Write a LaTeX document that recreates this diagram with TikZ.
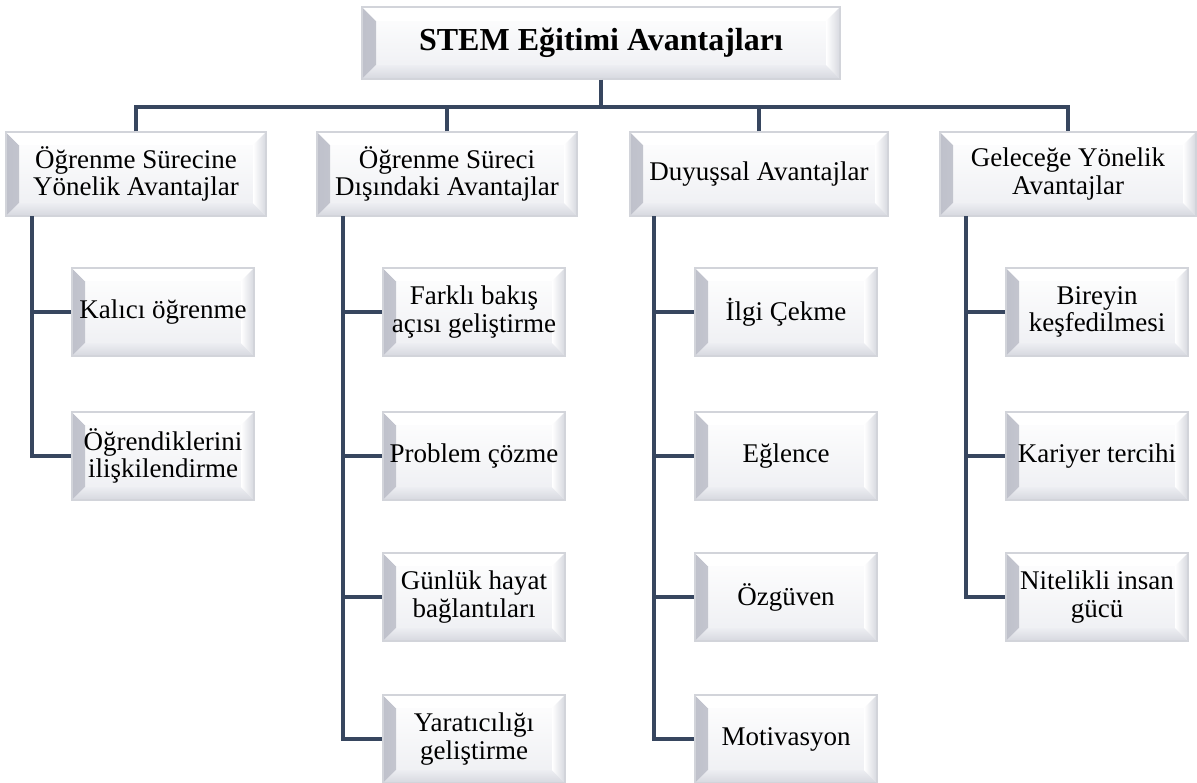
\documentclass[tikz,border=0pt]{standalone}
\usepackage{fontspec}
\setmainfont{Liberation Serif}
\definecolor{linkblue}{HTML}{37465F}
\definecolor{edgegray}{HTML}{D2D4DA}
\definecolor{bevdark}{HTML}{BFC1CB}
\definecolor{bevmid}{HTML}{D6D8DF}
\definecolor{facelow}{HTML}{EDEEF2}

% beveled faces of a panel, size #1
\newcommand\bevelfaces[1]{%
  \shade[left color=bevdark, right color=white]
    (path picture bounding box.south west)
    -- ([shift={(#1,#1)}]path picture bounding box.south west)
    -- ([shift={(#1,-#1)}]path picture bounding box.north west)
    -- (path picture bounding box.north west) -- cycle;
  \shade[top color=facelow, bottom color=bevmid]
    (path picture bounding box.south west)
    -- (path picture bounding box.south east)
    -- ([shift={(-#1,#1)}]path picture bounding box.south east)
    -- ([shift={(#1,#1)}]path picture bounding box.south west) -- cycle;
  \fill[white]
    (path picture bounding box.north west)
    -- (path picture bounding box.north east)
    -- ([shift={(-#1,-#1)}]path picture bounding box.north east)
    -- ([shift={(#1,-#1)}]path picture bounding box.north west) -- cycle;
  \shade[left color=white, right color=bevmid]
    (path picture bounding box.north east)
    -- (path picture bounding box.south east)
    -- ([shift={(-#1,#1)}]path picture bounding box.south east)
    -- ([shift={(-#1,-#1)}]path picture bounding box.north east) -- cycle;
}

\tikzset{
  panel/.style={rectangle, inner sep=0pt, align=center,
    top color=white, bottom color=facelow,
    draw=edgegray, line width=1.4pt,
    path picture={\bevelfaces{13pt}},
    font=\fontsize{27}{27.5}\selectfont},
  headpanel/.style={panel, minimum width=260pt, minimum height=84pt},
  itempanel/.style={panel, minimum width=182pt, minimum height=88pt},
  titlepanel/.style={panel, minimum width=478pt, minimum height=72pt,
    path picture={\bevelfaces{14pt}},
    font=\fontsize{32}{34}\selectfont\bfseries},
  link/.style={draw=linkblue, line width=3.1pt}
}

\begin{document}
\begin{tikzpicture}[x=1pt, y=-1pt]
\useasboundingbox (0,0) rectangle (1197,782);

% root
\node[titlepanel] (root) at (601,43) {STEM Eğitimi Avantajları};

% main branches
\node[headpanel] (h1) at (136,174) {Öğrenme Sürecine\\Yönelik Avantajlar};
\node[headpanel] (h2) at (447,174) {Öğrenme Süreci\\Dışındaki Avantajlar};
\node[headpanel, minimum width=258pt] (h3) at (759,174) {Duyuşsal Avantajlar};
\node[headpanel, minimum width=256pt] (h4) at (1068,174) {Geleceğe Yönelik\\Avantajlar};

% items
\node[itempanel] (a1) at (163,312) {Kalıcı öğrenme};
\node[itempanel] (a2) at (163,456) {Öğrendiklerini\\ilişkilendirme};

\node[itempanel] (b1) at (474,312) {Farklı bakış\\açısı geliştirme};
\node[itempanel] (b2) at (474,456) {Problem çözme};
\node[itempanel] (b3) at (474,597) {Günlük hayat\\bağlantıları};
\node[itempanel] (b4) at (474,739) {Yaratıcılığı\\geliştirme};

\node[itempanel] (c1) at (786,312) {İlgi Çekme};
\node[itempanel] (c2) at (786,456) {Eğlence};
\node[itempanel] (c3) at (786,597) {Özgüven};
\node[itempanel] (c4) at (786,739) {Motivasyon};

\node[itempanel] (d1) at (1097,312) {Bireyin\\keşfedilmesi};
\node[itempanel] (d2) at (1097,456) {Kariyer tercihi};
\node[itempanel] (d3) at (1097,597) {Nitelikli insan\\gücü};

% bus from the root to the main branches
\coordinate (bus) at (601,107);
\draw[link] (root.south) -- (bus);
\draw[link] (h1.north) |- (bus) -| (h4.north);
\draw[link] (h2.north) -- (h2.north |- bus);
\draw[link] (h3.north) -- (h3.north |- bus);

% trunks below the main branches
\coordinate (t1) at (32,216);
\coordinate (t2) at (343,216);
\coordinate (t3) at (654,216);
\coordinate (t4) at (966,216);

\draw[link] (t1) |- (a2.west);
\draw[link] (t1 |- a1.west) -- (a1.west);

\draw[link] (t2) |- (b4.west);
\foreach \n in {b1,b2,b3} \draw[link] (t2 |- \n.west) -- (\n.west);

\draw[link] (t3) |- (c4.west);
\foreach \n in {c1,c2,c3} \draw[link] (t3 |- \n.west) -- (\n.west);

\draw[link] (t4) |- (d3.west);
\foreach \n in {d1,d2} \draw[link] (t4 |- \n.west) -- (\n.west);
\end{tikzpicture}
\end{document}
